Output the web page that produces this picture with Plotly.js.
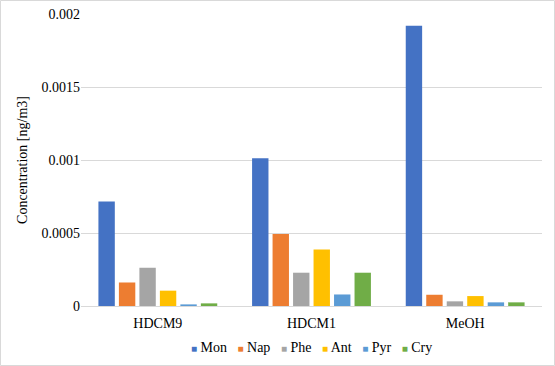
<!DOCTYPE html>
<html><head><meta charset="utf-8">
<script src="https://cdn.plot.ly/plotly-3.0.1.min.js"></script>
</head>
<body style="margin:0">
<div id="chart" style="width:555px;height:366px"></div>
<script>
const categories = ["HDCM9", "HDCM1", "MeOH"];
const seriesNames = ["Mon", "Nap", "Phe", "Ant", "Pyr", "Cry"];
const Mon = [0.000715, 0.001012, 0.00192];
const Nap = [0.000161, 0.000494, 0.000077];
const Phe = [0.000262, 0.000228, 0.000032];
const Ant = [0.000105, 0.000387, 0.000068];
const Pyr = [0.000011, 0.000079, 0.000025];
const Cry = [0.000018, 0.000228, 0.000025];
const yTicks = [0, 0.0005, 0.001, 0.0015, 0.002];
const yTickLabels = ["0", "0.0005", "0.001", "0.0015", "0.002"];
const colors = ["#4472C4", "#ED7D31", "#A5A5A5", "#FFC000", "#5B9BD5", "#70AD47"];

const seriesValues = [Mon, Nap, Phe, Ant, Pyr, Cry];
const traces = seriesNames.map((n, i) => ({
  type: "bar", name: n, x: categories, y: seriesValues[i],
  marker: {color: colors[i]}, hoverinfo: "none", showlegend: false
}));

// legend built as one text line from the series names and colours
const legendText = seriesNames.map((n, i) =>
  `<span style="color:${colors[i]};font-size:10px">■</span> ${n}`
).join("\u00a0\u00a0\u00a0");

const layout = {
  width: 555, height: 366,
  margin: {l: 81, r: 13, t: 14, b: 60},
  paper_bgcolor: "#fff", plot_bgcolor: "#fff",
  barmode: "group", bargap: 0.2, bargroupgap: 0.2,
  showlegend: false,
  shapes: [{type: "rect", xref: "paper", yref: "paper",
            x0: -80.5 / 461, x1: 1 + 12.5 / 461, y0: -59.5 / 292, y1: 1 + 13.5 / 292,
            line: {color: "#D9D9D9", width: 1}, fillcolor: "rgba(0,0,0,0)", layer: "below"}],
  annotations: [{xref: "paper", yref: "paper", x: 0.5, y: -0.1438, xanchor: "center", yanchor: "middle",
                 text: legendText, showarrow: false,
                 font: {family: "Liberation Serif", size: 14, color: "#000000"}}],
  xaxis: {type: "category", showline: true, linecolor: "#D9D9D9", linewidth: 1,
          ticks: "", tickfont: {family: "Liberation Serif", size: 14, color: "#000000"},
          fixedrange: true, automargin: false, ticklabelstandoff: 4},
  yaxis: {range: [0, 0.002], tickvals: yTicks, ticktext: yTickLabels,
          showgrid: true, gridcolor: "#D9D9D9", gridwidth: 1, zeroline: false,
          showline: false, ticks: "", ticklen: 0,
          tickfont: {family: "Liberation Serif", size: 14, color: "#000000"},
          title: {text: "Concentration [ng/m3]", standoff: 10,
                  font: {family: "Liberation Serif", size: 14, color: "#000000"}},
          automargin: false, fixedrange: true}
};
Plotly.newPlot("chart", traces, layout, {staticPlot: true});
</script>
</body></html>
